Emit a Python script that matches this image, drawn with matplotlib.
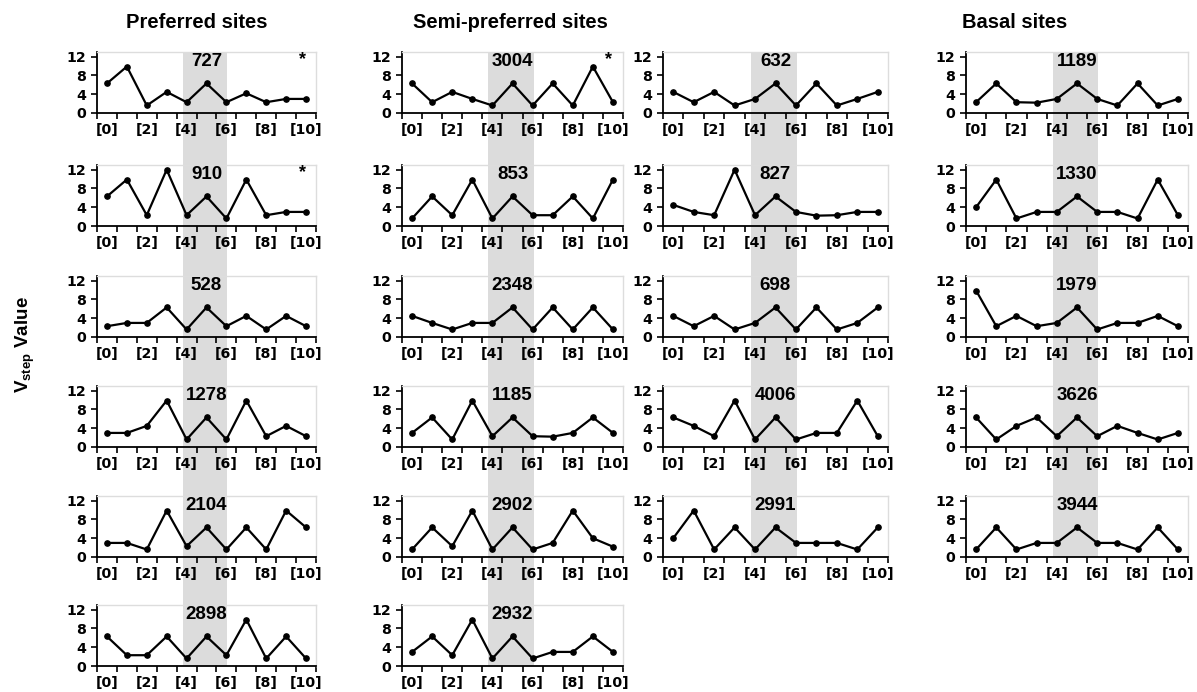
import numpy as np
import matplotlib
matplotlib.use('Agg')
import matplotlib.pyplot as plt
from matplotlib.patches import Rectangle
from matplotlib import transforms

plt.rcParams['font.family'] = ['Liberation Sans', 'DejaVu Sans']
plt.rcParams['font.weight'] = 'bold'
plt.rcParams['mathtext.fontset'] = 'custom'
plt.rcParams['mathtext.rm'] = 'Liberation Sans:bold'
plt.rcParams['mathtext.bf'] = 'Liberation Sans:bold'

# 数据：每列的位点编号和 V_step 值 (位置 0..10)
positions = np.arange(11)
tick_pos = [0, 2, 4, 6, 8, 10]
tick_labels = ['[0]', '[2]', '[4]', '[6]', '[8]', '[10]']

headers = ['Preferred sites', 'Semi-preferred sites', 'Basal sites']

preferred_ids = ['727', '910', '528', '1278', '2104', '2898']
preferred_vals = [
    [6.3, 9.9, 1.6, 4.5, 2.3, 6.3, 2.3, 4.2, 2.3, 3.0, 3.0],
    [6.3, 9.9, 2.3, 12.0, 2.3, 6.3, 1.6, 9.9, 2.3, 3.0, 3.0],
    [2.3, 3.0, 3.0, 6.3, 1.6, 6.3, 2.3, 4.5, 1.6, 4.5, 2.3],
    [3.0, 3.0, 4.5, 9.9, 1.6, 6.3, 1.6, 9.9, 2.3, 4.5, 2.3],
    [3.0, 3.0, 1.6, 9.9, 2.3, 6.3, 1.6, 6.3, 1.6, 9.9, 6.3],
    [6.3, 2.3, 2.3, 6.3, 1.6, 6.3, 2.3, 9.9, 1.6, 6.3, 1.6],
]
preferred_star = [True, True, False, False, False, False]

semi_a_ids = ['3004', '853', '2348', '1185', '2902', '2932']
semi_a_vals = [
    [6.3, 2.3, 4.5, 3.0, 1.6, 6.3, 1.6, 6.3, 1.6, 9.9, 2.3],
    [1.6, 6.3, 2.3, 9.9, 1.6, 6.3, 2.3, 2.3, 6.3, 1.6, 9.9],
    [4.5, 3.0, 1.6, 3.0, 3.0, 6.3, 1.6, 6.3, 1.6, 6.3, 1.6],
    [3.0, 6.3, 1.6, 9.9, 2.3, 6.3, 2.3, 2.2, 3.0, 6.3, 3.0],
    [1.6, 6.3, 2.3, 9.9, 1.6, 6.3, 1.6, 3.0, 9.9, 4.0, 2.2],
    [3.0, 6.3, 2.3, 9.9, 1.6, 6.3, 1.6, 3.0, 3.0, 6.3, 3.0],
]
semi_a_star = [True, False, False, False, False, False]

semi_b_ids = ['632', '827', '698', '4006', '2991']
semi_b_vals = [
    [4.5, 2.3, 4.5, 1.6, 3.0, 6.3, 1.6, 6.3, 1.6, 3.0, 4.5],
    [4.5, 3.0, 2.3, 12.0, 2.3, 6.3, 3.0, 2.2, 2.3, 3.0, 3.0],
    [4.5, 2.3, 4.5, 1.6, 3.0, 6.3, 1.6, 6.3, 1.6, 3.0, 6.3],
    [6.3, 4.5, 2.3, 9.9, 1.6, 6.3, 1.6, 3.0, 3.0, 9.9, 2.3],
    [4.0, 9.9, 1.6, 6.3, 1.6, 6.3, 3.0, 3.0, 3.0, 1.6, 6.3],
]
semi_b_star = [False] * 5

basal_ids = ['1189', '1330', '1979', '3626', '3944']
basal_vals = [
    [2.3, 6.3, 2.3, 2.2, 3.0, 6.3, 3.0, 1.6, 6.3, 1.6, 3.0],
    [4.0, 9.9, 1.6, 3.0, 3.0, 6.3, 3.0, 3.0, 1.6, 9.9, 2.3],
    [9.9, 2.3, 4.5, 2.3, 3.0, 6.3, 1.6, 3.0, 3.0, 4.5, 2.3],
    [6.3, 1.6, 4.5, 6.3, 2.3, 6.3, 2.3, 4.5, 3.0, 1.6, 3.0],
    [1.6, 6.3, 1.6, 3.0, 3.0, 6.3, 3.0, 3.0, 1.6, 6.3, 1.6],
]
basal_star = [False] * 5

columns = [
    (preferred_ids, preferred_vals, preferred_star),
    (semi_a_ids, semi_a_vals, semi_a_star),
    (semi_b_ids, semi_b_vals, semi_b_star),
    (basal_ids, basal_vals, basal_star),
]

# 版面 (像素)
W, H = 1197, 692
col_x = [(97, 316), (402, 623), (663, 888), (966, 1188)]
row_y = [(52, 113), (165, 226), (276, 337), (386, 447), (496, 557), (605, 666)]

fig = plt.figure(figsize=(W / 100, H / 100), dpi=100)

for c, (ids, vals, stars) in enumerate(columns):
    l, r = col_x[c]
    axes = []
    for i, (pid, v, st) in enumerate(zip(ids, vals, stars)):
        t, b = row_y[i]
        ax = fig.add_axes([l / W, 1 - b / H, (r - l) / W, (b - t) / H])
        ax.set_facecolor('none')
        ax.plot(positions, v, color='black', lw=1.6, marker='o', ms=3.8)
        ax.set_xlim(-0.5, 10.5)
        ax.set_ylim(0, 13)
        ax.set_yticks([0, 4, 8, 12])
        ax.set_xticks(tick_pos)
        ax.set_xticklabels(tick_labels)
        ax.set_xticks(np.arange(-0.5, 11, 1), minor=True)
        ax.tick_params(axis='x', which='major', length=0, pad=7)
        ax.tick_params(axis='x', which='minor', length=4, width=1.2, direction='out')
        ax.tick_params(axis='y', length=4, width=1.2, pad=4)
        for lab in ax.get_xticklabels() + ax.get_yticklabels():
            lab.set_family('DejaVu Sans')
            lab.set_fontweight('bold')
            lab.set_fontsize(10.2)
        for sp in ['left', 'bottom']:
            ax.spines[sp].set_linewidth(1.3)
        for sp in ['top', 'right']:
            ax.spines[sp].set_color('#dddddd')
            ax.spines[sp].set_linewidth(1.0)
        ax.text(5, 11.0, pid, ha='center', va='center', fontsize=13.5, fontweight='bold')
        if st:
            ax.text(9.8, 11.4, '*', ha='center', va='center', fontsize=13)
        axes.append(ax)
    # 灰色竖带 (贯穿整列)
    top = row_y[0][0]
    bot = row_y[len(ids) - 1][1]
    tr = transforms.blended_transform_factory(axes[0].transData, fig.transFigure)
    band = Rectangle((3.8, 1 - bot / H), 2.25, (bot - top) / H, transform=tr,
                     facecolor='#dcdcdc', edgecolor='none', zorder=-1)
    fig.patches.append(band)

fig.text(197 / W, 1 - 22 / H, headers[0], ha='center', va='center', fontsize=14.5, fontweight='bold')
fig.text(510 / W, 1 - 22 / H, headers[1], ha='center', va='center', fontsize=14.5, fontweight='bold')
fig.text(1015 / W, 1 - 22 / H, headers[2], ha='center', va='center', fontsize=14.5, fontweight='bold')
fig.text(25 / W, 1 - 345 / H, r'V$_{\mathbf{step}}$ Value', rotation=90, ha='center', va='center',
         fontsize=13.5, fontweight='bold')

fig.savefig('out.png', dpi=100)
